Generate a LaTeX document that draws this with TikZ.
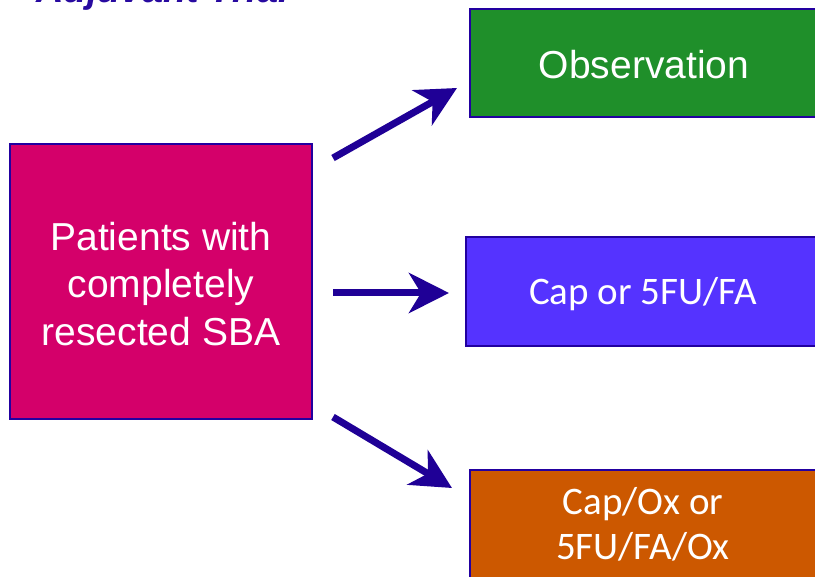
\documentclass[tikz,border=0pt]{standalone}
\usepackage{fontspec}
\setmainfont{Liberation Sans}
\newfontfamily\calib{Carlito}
\usetikzlibrary{arrows.meta}
\definecolor{boxline}{RGB}{34,0,160}
\definecolor{arrowc}{RGB}{31,0,150}
\definecolor{titlec}{RGB}{40,10,160}
\definecolor{pinkc}{RGB}{212,0,106}
\definecolor{greenc}{RGB}{31,143,42}
\definecolor{violetc}{RGB}{85,51,255}
\definecolor{orangec}{RGB}{204,88,0}
\begin{document}
\begin{tikzpicture}[x=1pt,y=-1pt,
  box/.style={draw=boxline, line width=2pt, inner sep=0pt, text=white, align=center,
    font=\fontsize{39}{47.5}\selectfont},
  cbox/.style={box, font=\calib\fontsize{39}{45}\selectfont},
  arr/.style={-{Stealth[length=40pt,width=40pt,inset=12pt]}, line width=7pt, draw=arrowc}]
\useasboundingbox (0,0) rectangle (815,577);
\clip (0,0) rectangle (815,577);
\fill[white] (0,0) rectangle (815,577);
\node[anchor=base west, text=titlec, font=\fontsize{38}{44}\selectfont\bfseries\itshape] (title) at (33,3) {Adjuvant Trial};
\node[box, fill=pinkc, minimum width=302pt, minimum height=275pt, text height=127.5pt, text depth=0pt] (pat) at (161,281.5) {Patients with\\completely\\resected SBA};
\node[box, fill=greenc, minimum width=348pt, minimum height=108pt, text height=32pt, text depth=0pt] (obs) at (644,63) {Observation};
\node[cbox, fill=violetc, minimum width=354pt, minimum height=109pt, text height=27pt, text depth=0pt] (cap) at (643,291.5) {Cap or 5FU/FA};
\node[cbox, fill=orangec, minimum width=346pt, minimum height=112pt, text depth=5pt] (capox) at (643,526) {Cap/Ox or\\5FU/FA/Ox};
\coordinate (a1s) at (333,158);
\coordinate (a1e) at (457,88);
\coordinate (a2s) at (333,293);
\coordinate (a2e) at (449,293);
\coordinate (a3s) at (333,417);
\coordinate (a3e) at (452,488);
\draw[arr] (a1s) -- (a1e);
\draw[arr] (a2s) -- (a2e);
\draw[arr] (a3s) -- (a3e);
\end{tikzpicture}
\end{document}
